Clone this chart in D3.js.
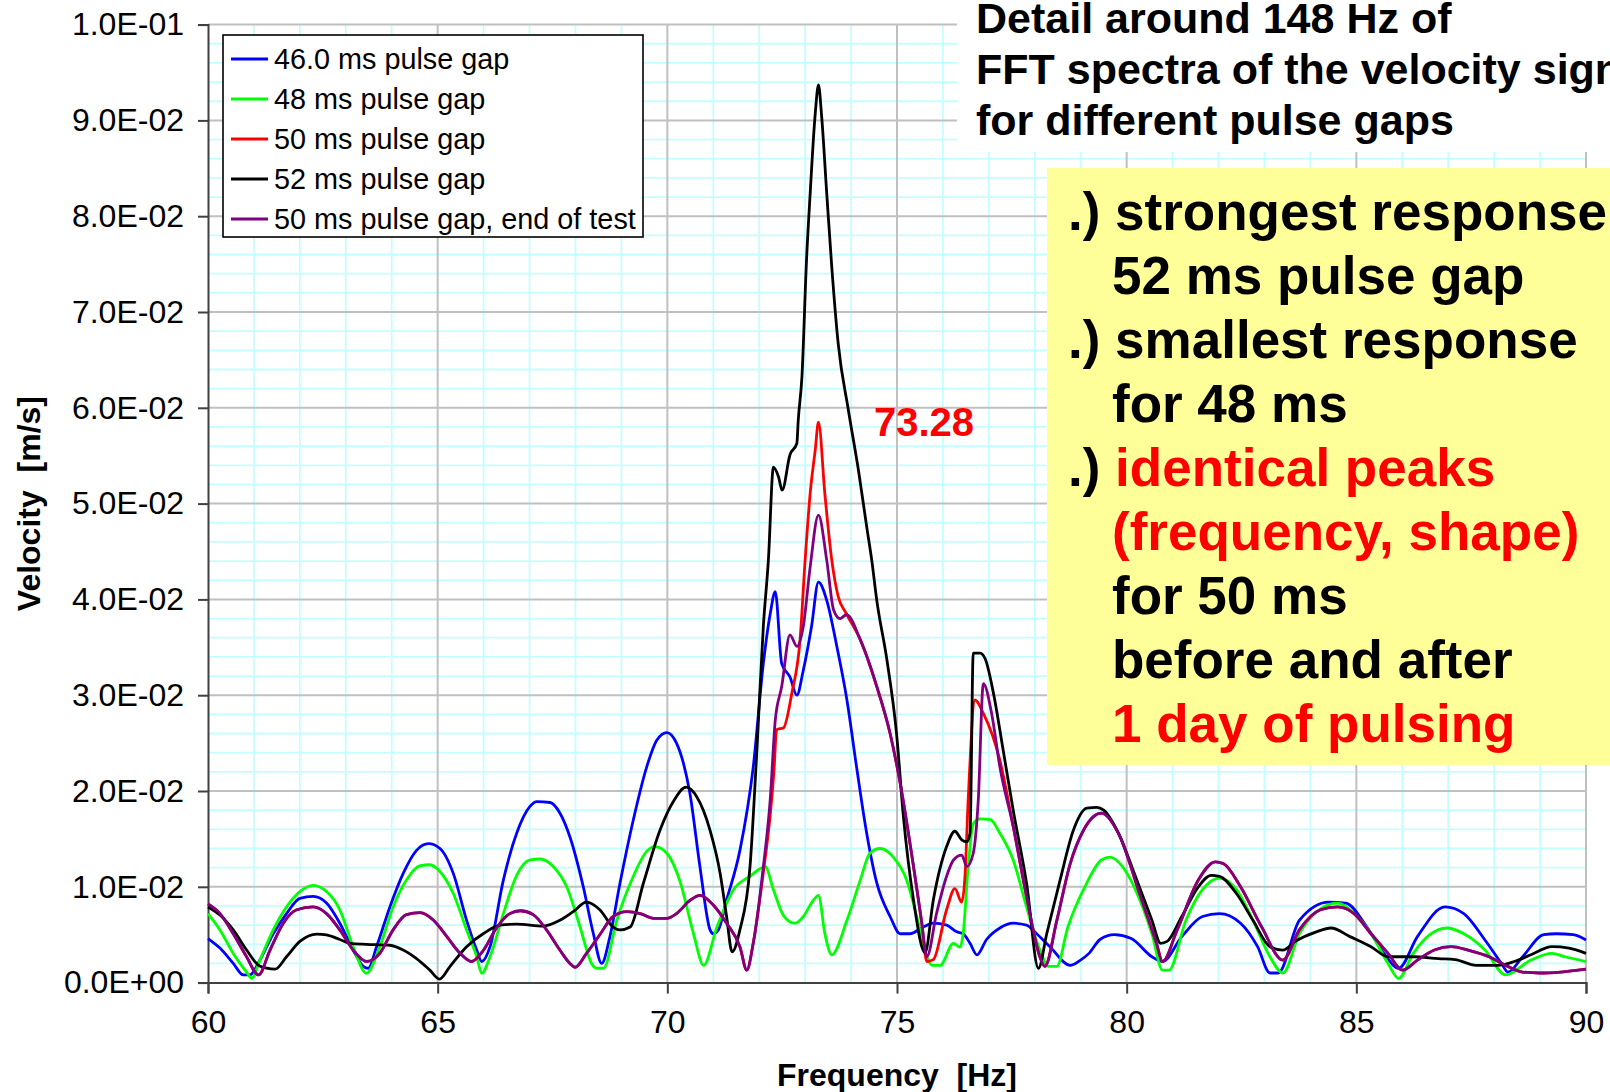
<!DOCTYPE html>
<html><head><meta charset="utf-8">
<script src="https://cdn.jsdelivr.net/npm/d3@7/dist/d3.min.js"></script>
<style>html,body{margin:0;padding:0;background:#fff;overflow:hidden}</style>
</head><body>
<svg id="c" width="1610" height="1092"></svg>
<script>
// ---------- data (velocity values in 1e-3 m/s) ----------
const xTicks = [60, 65, 70, 75, 80, 85, 90];
const yTicks = [0, 0.01, 0.02, 0.03, 0.04, 0.05, 0.06, 0.07, 0.08, 0.09, 0.1];
const yTickLabels = ["0.0E+00","1.0E-02","2.0E-02","3.0E-02","4.0E-02","5.0E-02","6.0E-02","7.0E-02","8.0E-02","9.0E-02","1.0E-01"];
const seriesNames = ["46.0 ms pulse gap","48 ms pulse gap","50 ms pulse gap","52 ms pulse gap","50 ms pulse gap, end of test"];
const seriesColors = ["#0000FF","#00FF00","#FF0000","#000000","#800080"];

const gap46 = [[60.0,4.6],[60.26,3.6],[60.55,2.0],[60.77,0.8],[60.91,0.8],[61.13,2.35],[61.42,5.1],[61.71,7.2],[62.0,8.8],[62.29,9.0],[62.58,8.3],[62.87,6.2],[63.16,3.4],[63.38,1.7],[63.49,1.5],[63.67,3.75],[63.96,7.9],[64.25,11.4],[64.54,13.8],[64.8,14.5],[65.05,14.0],[65.34,11.4],[65.63,6.5],[65.85,3.4],[65.96,2.2],[66.14,3.75],[66.43,10.7],[66.72,15.6],[67.01,18.4],[67.16,18.9],[67.45,18.8],[67.66,17.7],[67.88,15.2],[68.17,10.0],[68.39,5.1],[68.57,2.0],[68.75,4.8],[68.97,10.4],[69.26,17.0],[69.55,22.5],[69.77,25.3],[69.99,26.1],[70.2,25.0],[70.35,22.9],[70.49,19.8],[70.71,12.1],[70.93,5.5],[71.0,5.1],[71.11,5.5],[71.29,8.6],[71.58,13.8],[71.87,22.5],[72.09,33.3],[72.24,38.5],[72.35,40.8],[72.49,33.3],[72.67,31.9],[72.82,30.0],[72.96,32.6],[73.14,37.2],[73.29,41.8],[73.47,39.9],[73.69,35.1],[73.91,29.5],[74.12,22.5],[74.34,15.6],[74.56,10.4],[74.85,6.9],[75.07,5.1],[75.28,5.1],[75.57,5.8],[75.79,6.2],[76.08,6.0],[76.3,5.3],[76.44,5.1],[76.59,4.1],[76.74,2.9],[76.95,4.5],[77.24,5.7],[77.53,6.2],[77.82,6.0],[78.04,5.1],[78.33,3.75],[78.77,1.8],[78.98,2.3],[79.18,3.05],[79.42,4.5],[79.73,5.0],[80.1,4.6],[80.55,2.7],[80.78,2.2],[81.2,4.8],[81.65,6.9],[82.02,7.2],[82.48,6.2],[82.85,3.75],[83.12,1.0],[83.3,1.0],[83.76,6.5],[84.4,8.4],[84.77,8.3],[85.23,5.8],[85.6,3.05],[85.92,1.5],[86.33,4.8],[86.93,7.9],[87.34,7.2],[87.8,4.45],[88.16,2.0],[88.3,1.1],[88.62,2.7],[89.08,5.0],[89.35,5.1],[89.72,5.0],[90.0,4.45]];

const gap48 = [[60.0,7.2],[60.26,5.5],[60.55,3.05],[60.84,1.1],[60.95,0.44],[61.13,2.35],[61.42,5.5],[61.71,7.9],[62.0,9.5],[62.29,10.15],[62.58,9.5],[62.87,7.6],[63.16,3.75],[63.45,0.97],[63.74,3.75],[64.03,7.9],[64.32,10.7],[64.62,12.2],[64.83,12.3],[65.05,11.6],[65.34,9.3],[65.63,5.5],[65.85,2.7],[65.96,0.97],[66.14,2.7],[66.43,7.2],[66.72,11.2],[67.01,12.8],[67.23,12.9],[67.52,12.1],[67.81,10.0],[68.1,5.8],[68.35,2.0],[68.46,1.5],[68.61,1.5],[68.9,6.5],[69.26,11.1],[69.55,13.7],[69.73,14.2],[69.99,13.5],[70.28,10.5],[70.57,5.1],[70.79,1.8],[71.08,5.8],[71.44,9.7],[71.8,11.1],[72.13,12.1],[72.31,9.7],[72.53,7.0],[72.78,6.2],[72.96,6.9],[73.18,8.6],[73.29,9.1],[73.43,5.1],[73.58,2.9],[73.91,6.5],[74.2,10.7],[74.41,13.5],[74.63,14.0],[74.92,13.1],[75.21,10.7],[75.43,6.9],[75.65,2.7],[75.76,1.8],[75.94,1.8],[76.23,4.1],[76.37,3.7],[76.44,5.1],[76.55,12.1],[76.66,16.6],[76.81,17.1],[77.03,17.0],[77.24,15.6],[77.53,12.8],[77.82,7.9],[78.11,3.4],[78.3,1.7],[78.48,1.7],[78.72,5.8],[79.09,10.0],[79.45,12.8],[79.64,13.1],[79.91,12.1],[80.19,9.7],[80.55,5.1],[80.78,1.3],[80.92,1.3],[81.29,6.5],[81.65,9.7],[82.02,10.9],[82.39,9.7],[82.75,6.5],[83.12,2.7],[83.4,1.0],[83.76,5.1],[84.22,7.7],[84.59,8.3],[84.95,7.2],[85.32,5.1],[85.69,2.0],[85.92,0.44],[86.24,3.05],[86.6,5.0],[86.97,5.7],[87.34,5.1],[87.8,3.4],[88.25,0.8],[88.8,2.35],[89.26,3.05],[89.54,2.7],[90.0,2.2]];

const gap50 = [[60.0,8.2],[60.26,7.2],[60.55,5.1],[60.84,2.7],[61.1,0.8],[61.35,3.4],[61.64,6.2],[61.93,7.6],[62.29,7.9],[62.58,7.2],[62.87,5.5],[63.16,3.4],[63.45,2.2],[63.74,3.05],[64.03,5.5],[64.32,7.1],[64.62,7.3],[64.91,6.5],[65.2,4.8],[65.49,3.05],[65.74,2.2],[66.0,3.4],[66.28,5.7],[66.57,7.2],[66.8,7.5],[67.08,7.1],[67.37,5.5],[67.66,3.4],[67.88,2.0],[67.99,1.6],[68.24,3.05],[68.53,5.0],[68.82,6.9],[69.12,7.4],[69.41,7.2],[69.7,6.7],[69.99,6.7],[70.2,7.2],[70.5,8.6],[70.71,9.1],[71.0,8.1],[71.29,6.2],[71.58,3.75],[71.73,1.3],[71.87,4.1],[72.09,11.5],[72.24,17.5],[72.32,22.0],[72.38,26.4],[72.53,26.6],[72.71,30.2],[72.89,35.8],[73.0,44.1],[73.11,51.1],[73.22,55.6],[73.29,58.5],[73.43,51.0],[73.58,44.1],[73.72,40.3],[73.9,38.5],[74.2,35.8],[74.56,30.9],[74.85,26.0],[75.07,20.8],[75.36,12.1],[75.54,6.2],[75.65,2.2],[75.79,2.4],[76.08,7.6],[76.26,9.8],[76.41,8.4],[76.48,11.1],[76.55,19.1],[76.7,29.5],[76.88,28.1],[77.24,23.2],[77.53,16.3],[77.82,9.0],[78.11,2.7],[78.22,1.7],[78.48,6.5],[78.77,12.4],[79.06,15.9],[79.27,17.3],[79.45,17.7],[79.82,15.6],[80.28,9.3],[80.65,4.1],[80.78,2.2],[81.1,5.5],[81.56,10.7],[81.93,12.6],[82.11,12.4],[82.48,10.0],[82.94,5.8],[83.4,2.35],[83.76,5.5],[84.22,7.6],[84.59,7.9],[84.95,7.2],[85.32,5.1],[85.69,3.05],[86.01,1.3],[86.33,2.35],[86.7,3.4],[87.06,3.75],[87.43,3.4],[87.89,2.7],[88.25,1.8],[88.62,1.1],[88.99,1.0],[89.45,1.1],[90.0,1.4]];

const gap52 = [[60.0,7.9],[60.26,7.05],[60.55,5.5],[60.84,3.4],[61.1,1.8],[61.28,1.5],[61.46,1.4],[61.71,2.7],[62.0,4.3],[62.37,5.07],[62.58,4.97],[62.87,4.5],[63.09,4.1],[63.45,4.0],[63.96,3.9],[64.25,3.4],[64.54,2.5],[64.83,1.3],[65.04,0.37],[65.27,1.7],[65.63,3.75],[65.99,5.1],[66.36,6.0],[66.72,6.1],[67.3,5.9],[67.66,6.5],[67.95,7.4],[68.24,8.4],[68.53,7.6],[68.82,5.8],[68.97,5.5],[69.19,5.8],[69.48,10.4],[69.84,15.9],[70.13,18.9],[70.41,20.4],[70.64,19.4],[70.93,15.9],[71.15,11.4],[71.29,6.9],[71.41,3.2],[71.58,5.5],[71.8,12.1],[71.95,24.3],[72.09,37.2],[72.2,44.1],[72.31,53.8],[72.42,52.8],[72.5,51.4],[72.67,55.1],[72.82,56.3],[72.85,58.7],[72.93,63.2],[73.03,75.4],[73.11,82.4],[73.22,90.7],[73.29,93.7],[73.36,90.4],[73.47,82.4],[73.58,74.7],[73.72,66.7],[73.94,59.8],[74.16,53.5],[74.34,47.6],[74.45,44.1],[74.56,39.9],[74.78,33.7],[74.99,26.0],[75.14,17.3],[75.36,8.6],[75.61,3.1],[75.79,8.6],[76.08,14.2],[76.26,15.8],[76.41,14.9],[76.52,14.7],[76.59,15.6],[76.66,34.4],[76.81,34.4],[76.92,33.8],[77.1,30.2],[77.31,24.3],[77.53,18.0],[77.82,10.4],[78.08,1.5],[78.26,5.1],[78.55,10.7],[78.84,15.9],[79.13,18.2],[79.35,18.3],[79.5,18.0],[79.82,15.6],[80.19,11.1],[80.55,6.5],[80.74,4.1],[80.88,4.3],[81.2,6.9],[81.56,10.0],[81.84,11.2],[82.02,11.1],[82.39,9.3],[82.75,6.5],[83.12,3.75],[83.4,3.4],[83.67,4.3],[84.13,5.3],[84.45,5.7],[84.86,4.8],[85.32,3.75],[85.69,2.7],[86.24,2.7],[86.79,2.5],[87.15,2.4],[87.61,1.8],[88.07,1.8],[88.44,2.2],[88.8,2.9],[89.26,3.75],[89.63,3.6],[90.0,3.05]];

const gap50End = [[60.0,8.2],[60.26,7.2],[60.55,5.1],[60.84,2.7],[61.1,0.8],[61.35,3.4],[61.64,6.2],[61.93,7.6],[62.29,7.9],[62.58,7.2],[62.87,5.5],[63.16,3.4],[63.45,2.2],[63.74,3.05],[64.03,5.5],[64.32,7.1],[64.62,7.3],[64.91,6.5],[65.2,4.8],[65.49,3.05],[65.74,2.2],[66.0,3.4],[66.28,5.7],[66.57,7.2],[66.8,7.5],[67.08,7.1],[67.37,5.5],[67.66,3.4],[67.88,2.0],[67.99,1.6],[68.24,3.05],[68.53,5.0],[68.82,6.9],[69.12,7.4],[69.41,7.2],[69.7,6.7],[69.99,6.7],[70.2,7.2],[70.5,8.6],[70.71,9.1],[71.0,8.1],[71.29,6.2],[71.58,3.75],[71.73,1.3],[71.87,4.1],[72.09,12.1],[72.24,19.1],[72.35,27.4],[72.49,30.9],[72.67,36.3],[72.82,35.1],[72.96,37.2],[73.11,43.4],[73.29,48.8],[73.47,44.1],[73.62,38.9],[73.76,38.0],[73.9,38.4],[74.2,35.8],[74.56,30.9],[74.85,26.0],[75.07,20.8],[75.36,12.1],[75.54,6.2],[75.65,2.7],[75.86,7.2],[76.08,11.1],[76.23,12.8],[76.41,13.3],[76.52,12.1],[76.66,13.5],[76.77,19.1],[76.88,31.2],[77.06,28.1],[77.24,22.5],[77.53,16.3],[77.82,9.0],[78.11,2.7],[78.22,1.7],[78.48,6.5],[78.77,12.4],[79.06,15.9],[79.27,17.3],[79.45,17.7],[79.82,15.6],[80.28,9.3],[80.65,4.1],[80.78,2.2],[81.1,5.5],[81.56,10.7],[81.93,12.6],[82.11,12.4],[82.48,10.0],[82.94,5.8],[83.4,2.35],[83.76,5.5],[84.22,7.6],[84.59,7.9],[84.95,7.2],[85.32,5.1],[85.69,3.05],[86.01,1.3],[86.33,2.35],[86.7,3.4],[87.06,3.75],[87.43,3.4],[87.89,2.7],[88.25,1.8],[88.62,1.1],[88.99,1.0],[89.45,1.1],[90.0,1.4]];

const seriesData = [gap46, gap48, gap50, gap52, gap50End];

const titleLines = ["Detail around 148 Hz of", "FFT spectra of the velocity signal", "for different pulse gaps"];
const peakLabel = "73.28";
// note lines: [bullet, [[text, color], ...]]
const noteLines = [
  [".) ", [["strongest response", "#000"]]],
  ["", [["52 ms pulse gap", "#000"]]],
  [".) ", [["smallest response", "#000"]]],
  ["", [["for 48 ms", "#000"]]],
  [".) ", [["identical peaks", "#FF0000"]]],
  ["", [["(frequency, shape)", "#FF0000"]]],
  ["", [["for 50 ms", "#000"]]],
  ["", [["before and after", "#000"]]],
  ["", [["1 day of pulsing", "#FF0000"]]]
];

// ---------- layout ----------
const svg = d3.select("#c");
const L = 208, R = 1586, T = 24.6, B = 982.6;
const x = d3.scaleLinear().domain([60, 90]).range([L, R]);
const y = d3.scaleLinear().domain([0, 0.1]).range([B, T]);
const FONT = "Liberation Sans, Arial, Helvetica, sans-serif";

svg.append("rect").attr("width", 1610).attr("height", 1092).attr("fill", "#fff");

// minor grid
const g = svg.append("g");
g.selectAll(".mx").data(d3.range(61, 90, 1).filter(v => v % 5 !== 0)).join("line")
  .attr("x1", d => x(d)).attr("x2", d => x(d)).attr("y1", T).attr("y2", B)
  .attr("stroke", "#C4FFFF").attr("stroke-width", 1.8);
g.selectAll(".my").data(d3.range(1, 50).filter(i => i % 5 !== 0).map(i => i * 0.002)).join("line")
  .attr("x1", L).attr("x2", R).attr("y1", d => y(d)).attr("y2", d => y(d))
  .attr("stroke", "#C4FFFF").attr("stroke-width", 1.8);
// major grid
g.selectAll(".Mx").data(xTicks.slice(1)).join("line")
  .attr("x1", d => x(d)).attr("x2", d => x(d)).attr("y1", T).attr("y2", B)
  .attr("stroke", "#C0C0C0").attr("stroke-width", 2);
g.selectAll(".My").data(yTicks.slice(1)).join("line")
  .attr("x1", L).attr("x2", R).attr("y1", d => y(d)).attr("y2", d => y(d))
  .attr("stroke", "#C0C0C0").attr("stroke-width", 2);

// white area behind title
svg.append("rect").attr("x", 957).attr("y", 0).attr("width", 653).attr("height", 152).attr("fill", "#fff");

// axes
const yAxis = d3.axisLeft(y).tickValues(yTicks).tickSize(10).tickPadding(14)
  .tickFormat((d, i) => yTickLabels[i]);
const xAxis = d3.axisBottom(x).tickValues(xTicks).tickSize(11).tickPadding(17)
  .tickFormat(d => String(d));
const ya = svg.append("g").attr("transform", `translate(${L},0)`).call(yAxis);
const xa = svg.append("g").attr("transform", `translate(0,${B})`).call(xAxis);
[ya, xa].forEach(a => {
  a.select(".domain").attr("stroke", "#404040").attr("stroke-width", 2);
  a.selectAll(".tick line").attr("stroke", "#404040").attr("stroke-width", 2);
  a.selectAll("text").attr("font-family", FONT).attr("font-size", 32).attr("fill", "#000");
});

// lines
const line = d3.line().x(d => x(d[0])).y(d => y(d[1] / 1000)).curve(d3.curveMonotoneX);
svg.append("g").selectAll("path").data(seriesData).join("path")
  .attr("d", line).attr("fill", "none")
  .attr("stroke", (d, i) => seriesColors[i]).attr("stroke-width", 2.8)
  .attr("stroke-linejoin", "round");

// axis titles
svg.append("text").attr("x", (L + R) / 2).attr("y", 1086).attr("text-anchor", "middle")
  .attr("font-family", FONT).attr("font-size", 32).attr("font-weight", "bold")
  .style("white-space", "pre").text("Frequency  [Hz]");
svg.append("text").attr("transform", `translate(40,${(T + B) / 2}) rotate(-90)`).attr("text-anchor", "middle")
  .attr("font-family", FONT).attr("font-size", 32).attr("font-weight", "bold")
  .style("white-space", "pre").text("Velocity  [m/s]");

// legend
const lg = svg.append("g");
lg.append("rect").attr("x", 223).attr("y", 35).attr("width", 420).attr("height", 202)
  .attr("fill", "#fff").attr("stroke", "#000").attr("stroke-width", 1.6);
seriesNames.forEach((n, i) => {
  const yy = 59 + i * 40;
  lg.append("line").attr("x1", 231).attr("x2", 268).attr("y1", yy).attr("y2", yy)
    .attr("stroke", seriesColors[i]).attr("stroke-width", 2.8);
  lg.append("text").attr("x", 274).attr("y", yy).attr("dy", "0.36em")
    .attr("font-family", FONT).attr("font-size", 28.8).text(n);
});

// peak label
svg.append("text").attr("x", 874).attr("y", 436).attr("font-family", FONT)
  .attr("font-size", 40).attr("font-weight", "bold").attr("fill", "#FF0000").text(peakLabel);

// title
titleLines.forEach((t, i) => {
  svg.append("text").attr("x", 976).attr("y", 33 + i * 51).attr("font-family", FONT)
    .attr("font-size", 43).attr("font-weight", "bold").attr("fill", "#000").text(t);
});

// yellow note box
svg.append("rect").attr("x", 1047).attr("y", 168).attr("width", 600).attr("height", 597).attr("fill", "#FFFF99");
noteLines.forEach((ln, i) => {
  const t = svg.append("text").attr("x", ln[0] ? 1068 : 1112).attr("y", 230 + i * 64)
    .attr("font-family", FONT).attr("font-size", 53).attr("font-weight", "bold")
    .style("white-space", "pre");
  if (ln[0]) t.append("tspan").attr("fill", "#000").text(ln[0]);
  ln[1].forEach(p => t.append("tspan").attr("fill", p[1]).text(p[0]));
});
</script>
</body></html>
